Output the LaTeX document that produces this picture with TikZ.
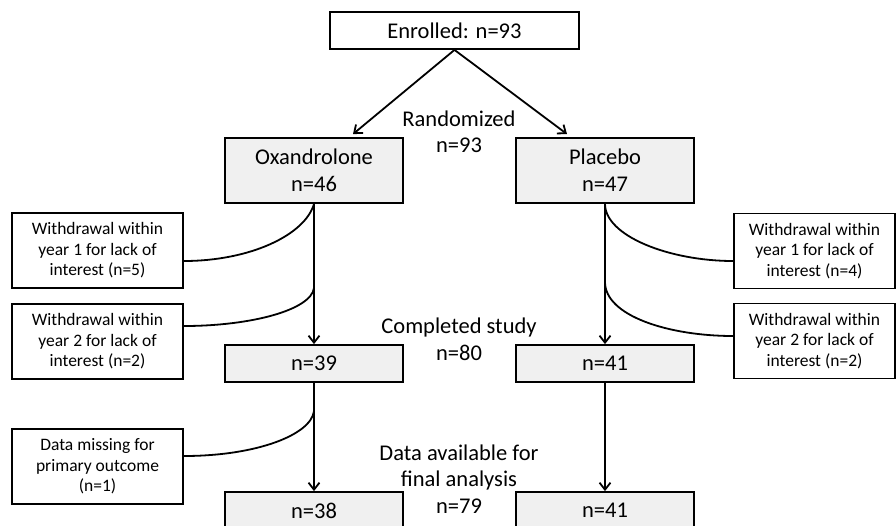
\documentclass[tikz,border=0pt]{standalone}
\usepackage{fontspec}
\setmainfont{Carlito}
\usetikzlibrary{arrows.meta,calc}
\definecolor{boxgray}{RGB}{240,240,240}
\begin{document}
\begin{tikzpicture}[x=1pt,y=-1pt,
  bigbox/.style={draw,line width=1.8pt,fill=boxgray,align=center,inner sep=0pt,font=\fontsize{22.5}{27}\selectfont},
  topbox/.style={bigbox,fill=white},
  smallbox/.style={draw,line width=1.8pt,fill=white,align=center,inner sep=0pt,minimum width=171,minimum height=75,font=\fontsize{17.5}{20.5}\selectfont},
  lbl/.style={align=center,inner sep=0pt,font=\fontsize{22.5}{26.5}\selectfont},
  conn/.style={line width=1.8pt},
  arr/.style={conn,-{Straight Barb[length=7pt,width=11pt,line width=1.8pt]}}]
\fill[white] (0,0) rectangle (896,525);
\useasboundingbox (0,0) rectangle (896,525);
% boxes
\node[topbox,minimum width=249,minimum height=37] (enr) at (454.5,30.5) {Enrolled: n=93};
\node[bigbox,minimum width=178,minimum height=65] (oxa) at (314,170.5) {Oxandrolone\\n=46};
\node[bigbox,minimum width=178,minimum height=65] (pla) at (605,170.5) {Placebo\\n=47};
\node[bigbox,minimum width=178,minimum height=37] (c39) at (314,363.5) {n=39};
\node[bigbox,minimum width=178,minimum height=37] (c41) at (605,363.5) {n=41};
\node[bigbox,minimum width=178,minimum height=37] (f38) at (314,510.5) {n=38};
\node[bigbox,minimum width=178,minimum height=37] (f41) at (605,510.5) {n=41};
\node[smallbox] (wl1) at (97.5,250.5) {Withdrawal within\\year 1 for lack of\\interest (n=5)};
\node[smallbox] (wl2) at (97.5,341.5) {Withdrawal within\\year 2 for lack of\\interest (n=2)};
\node[smallbox] (dm) at (97.5,466.5) {Data missing for\\primary outcome\\(n=1)};
\node[smallbox,minimum width=161] (wr1) at (814.5,251) {Withdrawal within\\year 1 for lack of\\interest (n=4)};
\node[smallbox,minimum width=161] (wr2) at (814.5,341) {Withdrawal within\\year 2 for lack of\\interest (n=2)};
% labels
\node[lbl] (rand) at (459,132) {Randomized\\n=93};
\node[lbl] (comp) at (459,339.5) {Completed study\\n=80};
\node[lbl] (data) at (459,479) {Data available for\\final analysis\\n=79};
% arrows
\draw[arr] (enr.south) -- ($(oxa.north)+(39,-3)$);
\draw[arr] (enr.south) -- ($(pla.north)+(-38,-3)$);
\draw[arr] (oxa.south) -- (c39.north);
\draw[arr] (c39.south) -- (f38.north);
\draw[arr] (pla.south) -- (c41.north);
\draw[arr] (c41.south) -- (f41.north);
% branch points
\coordinate (bl2) at (314,288);
\coordinate (bl3) at (314,411);
\coordinate (br2) at (605,282);
% curves
\draw[conn] (oxa.south) .. controls (305,235) and (250,261) .. ($(wl1.east)+(0,10.5)$);
\draw[conn] (bl2) .. controls +(-3,22) and +(67,0) .. ($(wl2.east)+(0,-15.5)$);
\draw[conn] (bl3) .. controls +(-3,24) and +(72,0) .. ($(dm.east)+(0,-10.5)$);
\draw[conn] (pla.south) .. controls +(0,32) and +(-64,0) .. ($(wr1.west)+(0,10)$);
\draw[conn] (br2) .. controls +(0,34) and +(-64,0) .. ($(wr2.west)+(0,-5)$);
\end{tikzpicture}
\end{document}
